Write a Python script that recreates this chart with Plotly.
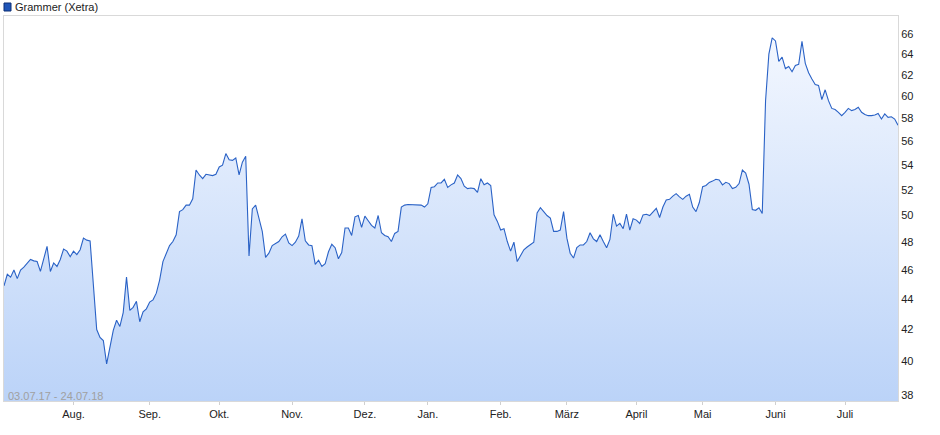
import pandas as pd
import numpy as np
import plotly.graph_objects as go

# Closing prices (EUR), one per Xetra trading day, 03.07.17 - 24.07.18
prices_jul_sep17 = [44.9, 45.7, 45.5, 46.0, 45.4, 46.0, 46.2, 46.5, 46.75, 46.65, 46.6, 45.9, 46.9, 47.7,
                    45.9, 46.5, 46.25, 46.75, 47.5, 47.35, 46.95, 47.35, 47.1, 47.45, 48.3, 48.15, 48.1,
                    44.9, 42.0, 41.5, 41.3, 39.85, 41.0, 41.95, 42.6, 42.2, 43.1, 45.5, 43.25, 43.45, 43.85,
                    42.5, 43.15, 43.35, 43.8, 43.95, 44.4, 45.3, 46.6, 47.2, 47.75, 48.05, 48.55]
prices_sep_dec17 = [50.3, 50.45, 50.8, 50.8, 51.3, 53.6, 53.2, 52.9, 53.25, 53.2, 53.15, 53.25, 53.85, 54.0,
                    54.97, 54.45, 54.4, 54.6, 53.2, 54.25, 54.75, 47.0, 50.5, 50.8, 49.8, 48.8, 46.9, 47.2,
                    47.75, 47.9, 48.05, 48.4, 48.6, 47.95, 47.75, 48.0, 48.45, 49.75, 48.1, 47.8, 47.75, 46.4,
                    46.7, 46.25, 46.45, 47.3, 47.85, 47.6, 46.8, 47.25, 49.05, 49.05, 48.5, 49.9, 50.0]
prices_dec17_feb18 = [49.1, 49.95, 49.6, 49.25, 49.05, 50.0, 48.7, 48.5, 48.4, 48.05, 48.65, 48.8, 50.65,
                      50.8, 50.85, 50.85, 50.85, 50.85, 50.8, 50.65, 50.9, 52.2, 52.25, 52.55, 52.55, 52.85,
                      52.2, 52.4, 52.55, 53.2, 52.9, 52.3, 52.1, 52.15, 52.1, 51.8, 52.9, 52.4, 52.55, 52.35,
                      50.05, 49.55, 48.9, 49.0, 48.05, 47.35, 48.0, 46.6, 47.0, 47.45, 47.65, 47.8, 48.0,
                      50.2, 50.6]
prices_feb_may18 = [50.3, 50.0, 49.8, 48.8, 48.8, 48.9, 50.3, 48.3, 47.2, 46.85, 47.6, 47.8, 47.8, 48.05,
                    48.7, 48.25, 48.05, 48.55, 48.05, 47.6, 48.2, 50.1, 49.2, 49.4, 49.0, 50.1, 48.9, 49.75,
                    49.65, 49.4, 50.05, 50.1, 50.0, 50.3, 50.55, 49.85, 50.65, 51.2, 51.25, 51.5, 51.7,
                    51.45, 51.25, 51.5, 51.65, 50.65, 50.3, 51.0, 52.25, 52.35, 52.6, 52.7, 52.85, 52.8,
                    52.4, 52.6]
prices_may_jul18 = [52.5, 52.1, 52.2, 52.5, 53.6, 53.35, 52.45, 50.45, 50.4, 50.6, 50.15, 59.6, 64.0, 65.6,
                    65.3, 63.3, 63.7, 62.6, 62.8, 62.3, 62.9, 63.0, 65.25, 63.1, 62.2, 61.6, 61.1, 61.0,
                    59.7, 60.6, 59.6, 58.9, 58.8, 58.55, 58.25, 58.55, 58.9, 58.7, 58.8, 59.0, 58.55,
                    58.35, 58.25, 58.25, 58.3, 58.45, 57.95, 58.4, 58.1, 58.15, 57.95, 57.4]

prices = prices_jul_sep17 + prices_sep_dec17 + prices_dec17_feb18 + prices_feb_may18 + prices_may_jul18

holidays = ["2017-12-25", "2017-12-26", "2018-01-01", "2018-03-30", "2018-04-02", "2018-05-01"]
days = pd.bdate_range("2017-07-03", "2018-07-24")
days = days[~days.isin(pd.to_datetime(holidays))]
if len(days) != len(prices):
    raise ValueError(f"days {len(days)} prices {len(prices)}")
dates = [d.strftime("%Y-%m-%d") for d in days]

month_labels = ["Aug.", "Sep.", "Okt.", "Nov.", "Dez.", "Jan.", "Feb.", "März", "April", "Mai", "Juni", "Juli"]
y_ticks = [38, 40, 42, 44, 46, 48, 50, 52, 54, 56, 58, 60, 62, 64, 66]

# first trading day of each month from August on
month_keys = [d[:7] for d in dates]
tick_vals = [dates[i] for i in range(1, len(dates)) if month_keys[i] != month_keys[i - 1]]

y_min, y_max = 37.65, 67.84
line_color = "#2a62c6"

fig = go.Figure()
fig.add_trace(go.Scatter(x=dates, y=[y_min] * len(dates), mode="lines",
                         line=dict(width=0), hoverinfo="skip", showlegend=False))
fig.add_trace(go.Scatter(
    x=dates, y=prices, mode="lines", name="Grammer (Xetra)",
    line=dict(color=line_color, width=1.1),
    fill="tonexty",
    fillgradient=dict(type="vertical", start=y_min, stop=y_max,
                      colorscale=[[0, "#bbd3f8"], [1, "#f6f9ff"]]),
    showlegend=False,
))

fig.update_layout(
    width=940, height=435,
    margin=dict(l=4, r=42, t=16, b=34),
    paper_bgcolor="white", plot_bgcolor="white",
    font=dict(family="Liberation Sans, Arial, sans-serif", size=11, color="#222"),
    xaxis=dict(type="category", range=[0, len(dates) - 1], tickmode="array",
               tickvals=tick_vals, ticktext=month_labels, showgrid=False, zeroline=False,
               showline=True, linecolor="#d9d9d9", linewidth=1, mirror=True,
               ticks="outside", ticklen=3, tickcolor="#d0d0d0",
               tickfont=dict(size=11, color="#222")),
    yaxis=dict(type="log", side="right", range=[np.log10(y_min), np.log10(y_max)],
               tickmode="array", tickvals=y_ticks, ticktext=[str(v) for v in y_ticks],
               showgrid=False, zeroline=False, showline=True, linecolor="#d9d9d9",
               linewidth=1, mirror=True, ticks="", tickfont=dict(size=11, color="#222")),
    showlegend=False,
)

# legend box
fig.add_shape(type="rect", xref="paper", yref="paper",
              x0=0, x1=7 / 894, y0=1 + 5 / 385, y1=1 + 13 / 385,
              fillcolor="#1f55b8", line=dict(color="#0d2f75", width=1))
fig.add_annotation(text="Grammer (Xetra)", xref="paper", yref="paper",
                   x=9 / 894, y=1 + 9 / 385, xanchor="left", yanchor="middle",
                   showarrow=False, font=dict(size=11, color="#222"))
fig.add_annotation(text="03.07.17 - 24.07.18", xref="paper", yref="paper",
                   x=2 / 894, y=5.5 / 385, xanchor="left", yanchor="middle",
                   showarrow=False, font=dict(size=11, color="#a0a0a0"))

fig.write_html("out.html", config={"displayModeBar": False},
               post_script="document.body.style.margin='0';document.body.style.overflow='hidden';")
